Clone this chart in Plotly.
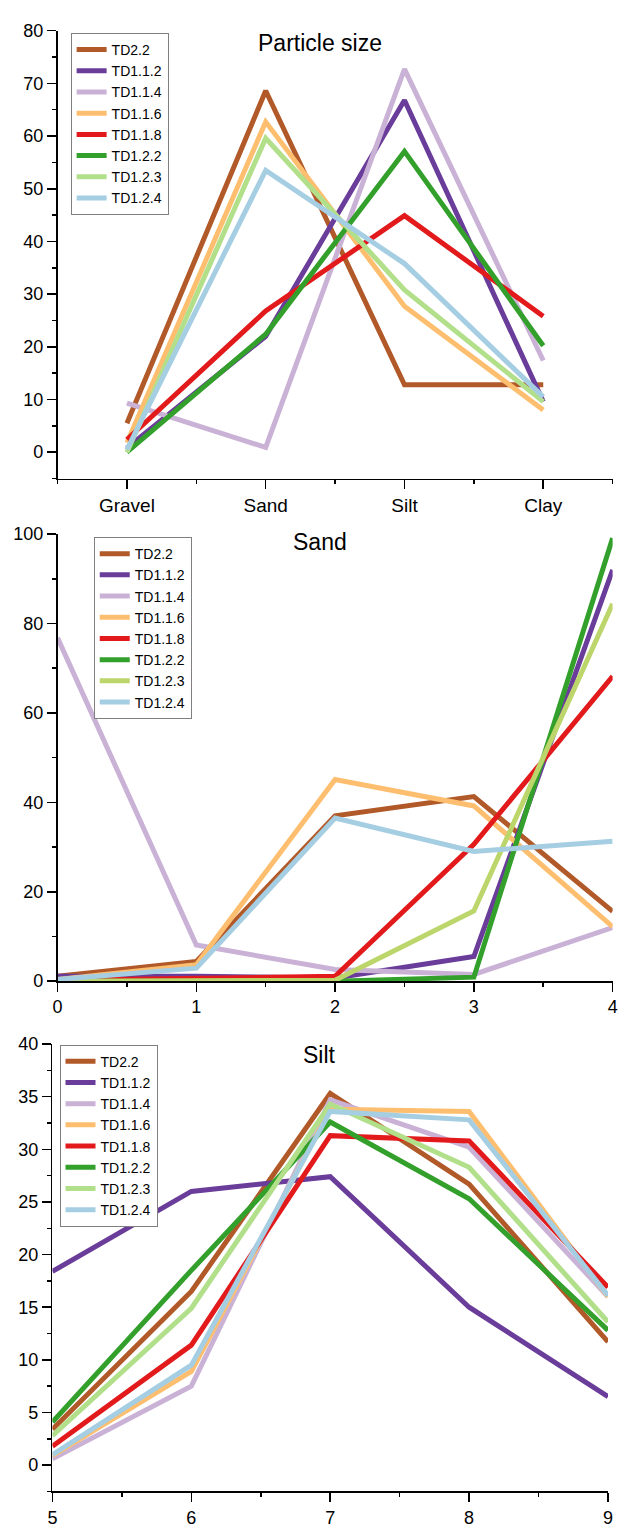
import plotly.graph_objects as go

series_names = ["TD2.2", "TD1.1.2", "TD1.1.4", "TD1.1.6", "TD1.1.8", "TD1.2.2", "TD1.2.3", "TD1.2.4"]
colors = ["#B15928", "#6A3D9A", "#CAB2D6", "#FDBF6F", "#E31A1C", "#33A02C", "#B2DF8A", "#A6CEE3"]
colors_sand = ["#B15928", "#6A3D9A", "#CAB2D6", "#FDBF6F", "#E31A1C", "#33A02C", "#BDD66C", "#A6CEE3"]

# Panel 1: Particle size
size_categories = ["Gravel", "Sand", "Silt", "Clay"]
size_values = [
    [5.5, 68.6, 12.8, 12.8],
    [0.8, 22.0, 66.8, 9.6],
    [9.3, 0.9, 72.7, 17.4],
    [1.8, 62.7, 27.7, 8.0],
    [2.4, 26.8, 44.9, 25.8],
    [0.0, 22.4, 57.1, 20.2],
    [0.0, 59.6, 30.8, 9.6],
    [0.5, 53.5, 35.8, 10.5],
]

# Panel 2: Sand
sand_x = [0, 1, 2, 3, 4]
sand_values = [
    [1.1, 4.4, 37.0, 41.3, 15.6],
    [1.1, 1.1, 0.7, 5.5, 92.0],
    [76.8, 8.1, 2.6, 1.5, 12.0],
    [0.4, 3.7, 45.1, 39.2, 12.2],
    [0.2, 0.6, 1.1, 30.6, 68.2],
    [0.0, 0.0, 0.0, 0.9, 99.1],
    [0.0, 0.0, 0.2, 15.7, 84.4],
    [0.4, 2.9, 36.5, 29.0, 31.3],
]

# Panel 3: Silt
silt_x = [5, 6, 7, 8, 9]
silt_values = [
    [3.4, 16.5, 35.3, 26.7, 11.7],
    [18.4, 26.0, 27.4, 15.0, 6.5],
    [0.6, 7.5, 34.7, 30.2, 16.0],
    [0.9, 8.9, 33.8, 33.6, 16.0],
    [1.8, 11.4, 31.3, 30.8, 16.9],
    [4.1, 18.5, 32.6, 25.3, 12.8],
    [2.8, 14.9, 34.3, 28.3, 13.6],
    [1.0, 9.5, 33.6, 32.8, 16.1],
]

titles = ["Particle size", "Sand", "Silt"]

FONT = "Liberation Sans, Arial, sans-serif"
LW = 5

fig = go.Figure()
size_idx = list(range(len(size_categories)))
for i, name in enumerate(series_names):
    fig.add_trace(go.Scatter(x=size_idx, y=size_values[i], mode="lines", name=name,
                             line=dict(color=colors[i], width=LW), xaxis="x", yaxis="y",
                             legend="legend"))
for i, name in enumerate(series_names):
    fig.add_trace(go.Scatter(x=sand_x, y=sand_values[i], mode="lines", name=name,
                             line=dict(color=colors_sand[i], width=LW), xaxis="x2", yaxis="y2",
                             legend="legend2"))
for i, name in enumerate(series_names):
    fig.add_trace(go.Scatter(x=silt_x, y=silt_values[i], mode="lines", name=name,
                             line=dict(color=colors[i], width=LW), xaxis="x3", yaxis="y3",
                             legend="legend3"))

axis_common = dict(showline=True, linecolor="black", linewidth=1.6, ticks="outside",
                   ticklen=9, tickwidth=1.5, tickcolor="black", showgrid=False, zeroline=False,
                   tickfont=dict(family=FONT, size=18, color="black"), fixedrange=True,
                   ticklabeloverflow="allow")

def minor(d):
    return dict(dtick=d, ticks="outside", ticklen=4, tickwidth=1.5, tickcolor="black", showgrid=False)

legend_common = dict(xanchor="left", yanchor="top", bgcolor="white", bordercolor="#808080",
                     borderwidth=1, font=dict(family=FONT, size=14, color="black"),
                     tracegroupgap=0, itemwidth=30)

W, H = 620, 1535
fig.update_layout(
    width=W, height=H, autosize=False,
    margin=dict(l=0, r=0, t=0, b=0),
    paper_bgcolor="white", plot_bgcolor="white",
    font=dict(family=FONT),
    xaxis=dict(axis_common, domain=[53.4 / W, 617.6 / W], range=[-0.5, 3.5],
               tickvals=size_idx, ticktext=size_categories, minor=minor(0.5),
               tickfont=dict(family=FONT, size=19, color="black"), anchor="y"),
    yaxis=dict(axis_common, domain=[1 - 474.7 / H, 1 - 21 / H], range=[-5, 80],
               tick0=0, dtick=10, minor=minor(5), anchor="x"),
    xaxis2=dict(axis_common, domain=[53.4 / W, 617.6 / W], range=[0, 4],
                tick0=0, dtick=1, minor=minor(0.5), anchor="y2"),
    yaxis2=dict(axis_common, domain=[1 - 984 / H, 1 - 531 / H], range=[0, 100],
                tick0=0, dtick=20, minor=minor(10), anchor="x2"),
    xaxis3=dict(axis_common, domain=[48.2 / W, 612.9 / W], range=[5, 9],
                tick0=5, dtick=1, minor=minor(0.5), anchor="y3"),
    yaxis3=dict(axis_common, domain=[1 - 1501 / H, 1 - 1047.7 / H], range=[-2.5, 40],
                tick0=0, dtick=5, minor=minor(2.5), anchor="x3"),
    legend=dict(legend_common, x=66.7 / W, y=1 - 23.3 / H),
    legend2=dict(legend_common, x=90.2 / W, y=1 - 534 / H),
    legend3=dict(legend_common, x=55.4 / W, y=1 - 1048.3 / H),
    showlegend=True,
)

title_y = [33, 539, 1059]
for t, ty in zip(titles, title_y):
    fig.add_annotation(text=t, x=320 / W, y=1 - ty / H, xref="paper", yref="paper",
                       xanchor="center", yanchor="middle", showarrow=False,
                       font=dict(family=FONT, size=23, color="black"))

fig.write_html("out.html",
               config={"displayModeBar": False, "staticPlot": True},
               post_script="document.body.style.margin='0';document.body.style.overflow='hidden';")
